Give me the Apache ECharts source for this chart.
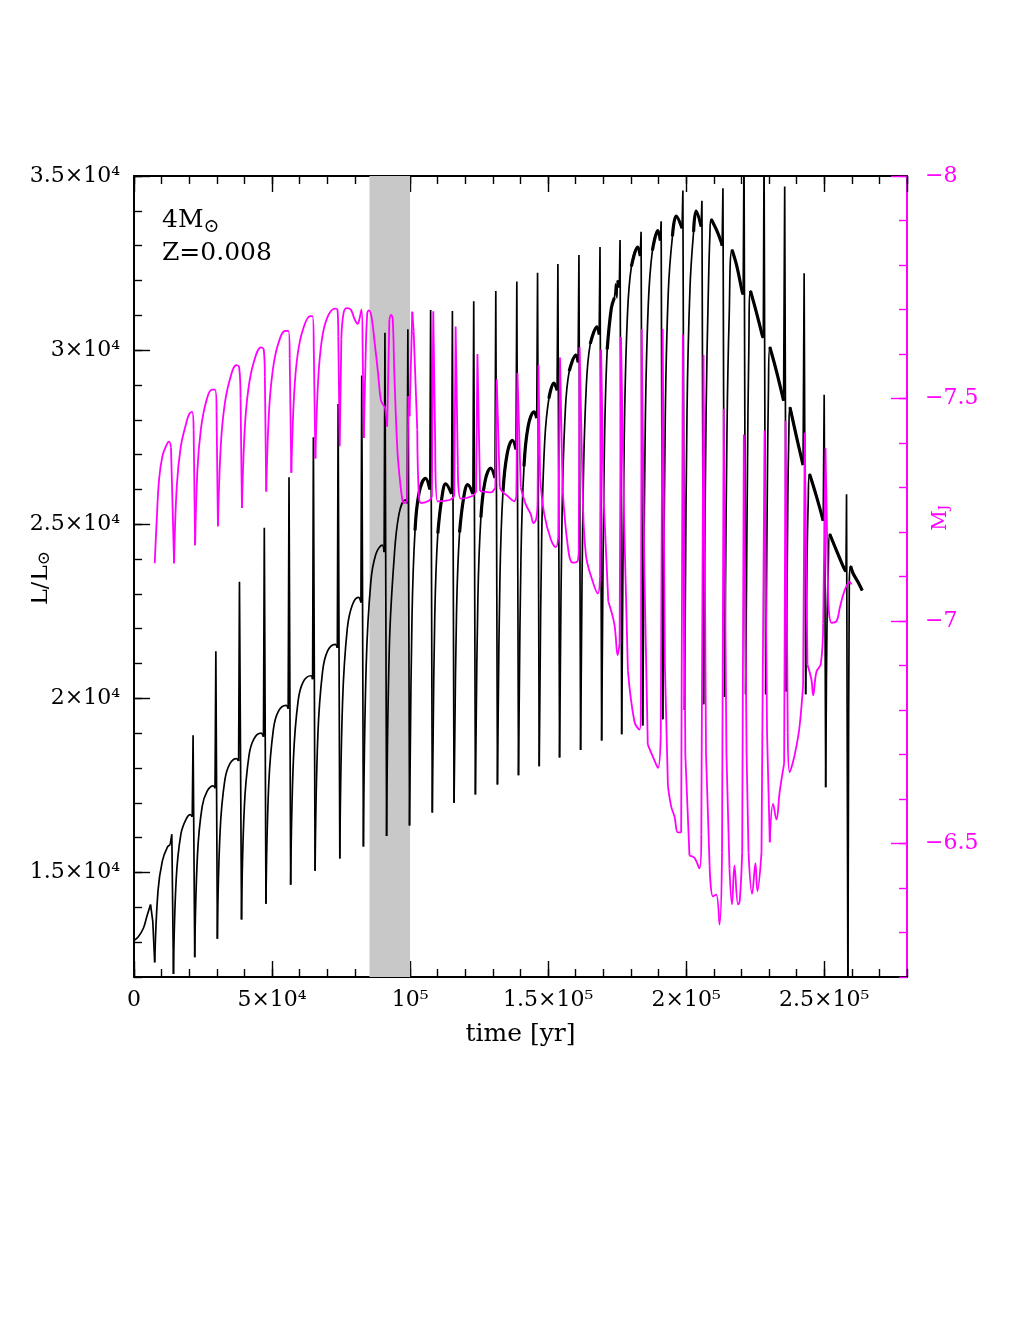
<!DOCTYPE html>
<html>
<head>
<meta charset="utf-8">
<title>4 Msun, Z=0.008: L and M_J through the thermal pulses</title>
<script src="https://cdn.jsdelivr.net/npm/echarts@6/dist/echarts.min.js"></script>
<style>
  html, body { margin: 0; background: #fff; }
  /* the figure is cut a few pixels into the left tick labels, as in the original */
  #chart { position: absolute; left: 31px; top: 0; width: 989px; height: 1320px; }
</style>
</head>
<body>
<div id="chart"></div>
<script>
const FONT = 'DejaVu Serif'
const MAGENTA = '#ff00ff'

// axis ticks
const xTickValues = [0, 50000, 100000, 150000, 200000, 250000]
const xTickLabels = ['0', '5×10⁴', '10⁵', '1.5×10⁵', '2×10⁵', '2.5×10⁵']
const lumTickValues = [15000, 20000, 25000, 30000, 35000]
const lumTickLabels = ['1.5×10⁴', '2×10⁴', '2.5×10⁴', '3×10⁴', '3.5×10⁴']
const mjTickValues = [-8, -7.5, -7, -6.5]
const mjTickLabels = ['−8', '−7.5', '−7', '−6.5']

// shaded time interval [yr]
const shadedBand = [85300, 100000]

// luminosity L/Lsun  [time yr, L]
const lumData = [
  [0, 13050], [1500, 13150], [3400, 13400], [4700, 13750], [6000, 14080], [6800, 13600], [7500, 12420],
  [8700, 14480], [10300, 15340], [12100, 15730], [13100, 15800], [13700, 16100], [14300, 12090],
  [15300, 14830], [17000, 16110], [18800, 16520], [20400, 16660], [21100, 16600], [21400, 18940], [22000, 12570],
  [23000, 15520], [24700, 16900], [26500, 17340], [28700, 17490], [29350, 17420], [29650, 21350], [30200, 13100],
  [31200, 16200], [32900, 17650], [34700, 18120], [37100, 18270], [37900, 18200], [38200, 23350], [38950, 13650],
  [39950, 16860], [41650, 18360], [43450, 18840], [46000, 19000], [46900, 18900], [47200, 24900], [47800, 14100],
  [48800, 17520], [50500, 19120], [52300, 19630], [55100, 19800], [55850, 19700], [56150, 26350], [56750, 14650],
  [57750, 18250], [59450, 19930], [61250, 20470], [64100, 20650], [64700, 20550], [64980, 27500], [65600, 15050],
  [66600, 18950], [68300, 20770], [70100, 21355], [72900, 21550], [73650, 21450], [73940, 28450], [74550, 15400],
  [75550, 19900], [77250, 22000], [79050, 22675], [81300, 22900], [82200, 22750], [82500, 29270], [83100, 15750],
  [84100, 20940], [85800, 23360], [87600, 24140], [89900, 24400], [90600, 24200], [90900, 30500], [91500, 16050],
  [92500, 21500], [94200, 24000], [96000, 25300], [98300, 25700], [98950, 25600], [99200, 30600], [99800, 16350],
  [100700, 22330], [101800, 24825], [103300, 25920], [105600, 26320], [107150, 26000], [107450, 31150], [108050, 16720],
  [108950, 22380], [110050, 24740], [111550, 25780], [112900, 26160], [115030, 25870], [115330, 31120], [115930, 17000],
  [116830, 22480], [117930, 24770], [119430, 25770], [120900, 26140], [122760, 25870], [123060, 31400], [123660, 17240],
  [124560, 22860], [125660, 25200], [127160, 26235], [129200, 26610], [130750, 26330], [131050, 31700], [131650, 17530],
  [132550, 23460], [133650, 25930], [135150, 27015], [137100, 27410], [138370, 27150], [138670, 31970], [139270, 17790],
  [140170, 24050], [141270, 26660], [142770, 27810], [144950, 28230], [145880, 28050], [146180, 32220], [146780, 18050],
  [147680, 24650], [148780, 27400], [150280, 28610], [152100, 29050], [153250, 28850], [153550, 32470], [154150, 18300],
  [155050, 25240], [156150, 28130], [157650, 29400], [160080, 29860], [160870, 29650], [161170, 32730], [161770, 18520],
  [162670, 25810], [163770, 28850], [165270, 30180], [167710, 30670], [168500, 30450], [168800, 32960], [169400, 18790],
  [170300, 26720], [171400, 30020], [172900, 31200], [174000, 31500], [174500, 31900], [174900, 31500], [175220, 32000],
  [175800, 31800], [176060, 33160], [176660, 18970],
  [177560, 27360], [178660, 30860], [180160, 32400], [182480, 32960], [183380, 32700], [183680, 33400], [184280, 19220],
  [185180, 27750], [186280, 31300], [187780, 32860], [189750, 33430], [190640, 33150], [190940, 33700], [191540, 19400],
  [192440, 28070], [193540, 31680], [195040, 33270], [196400, 33850], [198520, 33500], [198820, 34580], [199420, 19670],
  [200320, 28260], [201420, 31840], [202700, 33400], [203620, 33990], [205420, 33550], [205720, 34290], [206320, 19830],
  [207220, 28190], [208000, 31530], [208600, 33300], [209070, 33760], [211000, 33450], [212720, 33100], [213030, 33000],
  [213330, 34650], [213930, 20040],
  [214800, 27740], [215600, 31000], [216610, 32880], [218400, 32400], [220240, 31700], [220660, 31600], [220960, 35800], [221560, 20120],
  [222200, 26500], [222700, 30000], [223300, 31700], [225400, 31100], [227500, 30450], [227950, 30350], [228220, 35800], [228820, 20120],
  [229400, 26000], [229800, 28800], [230300, 30090], [232700, 29400], [235300, 28550], [235700, 34700], [236300, 20200],
  [236800, 25500], [237200, 27600], [237600, 28360], [240000, 27500], [242350, 26700], [242740, 32210], [243300, 20120],
  [243800, 24000], [244200, 25600], [244700, 26440], [247200, 25800], [249650, 25100], [250000, 28720], [250550, 17450],
  [251000, 22000], [251500, 23800], [252000, 24720], [254700, 24200], [257400, 23700], [257900, 23650], [258100, 25860], [258600, 11500],
  [259100, 23300], [259600, 23800], [260400, 23600], [262200, 23350], [263800, 23100]
]

// absolute J magnitude  [time yr, M_J]
const mjData = [
  [7500, -7.13], [8240, -7.228], [9080, -7.318], [10270, -7.37], [11510, -7.392], [12700, -7.403], [13400, -7.39], [14520, -7.13],
  [15490, -7.302], [16940, -7.392], [18770, -7.441], [19970, -7.465], [21000, -7.47], [21600, -7.43], [22140, -7.17],
  [22980, -7.34], [24210, -7.43], [26000, -7.49], [28200, -7.52], [29300, -7.52], [29900, -7.47], [30400, -7.213],
  [31400, -7.39], [32700, -7.48], [34600, -7.54], [37100, -7.575], [38100, -7.57], [38600, -7.5], [39100, -7.254],
  [40100, -7.43], [41400, -7.52], [43300, -7.58], [46000, -7.615], [47000, -7.61], [47400, -7.55], [47900, -7.291],
  [48900, -7.47], [50200, -7.56], [52100, -7.62], [54800, -7.652], [55900, -7.652], [56400, -7.59], [56990, -7.333],
  [58000, -7.51], [59300, -7.6], [61200, -7.655], [63800, -7.685], [64600, -7.685], [65100, -7.62], [65700, -7.365],
  [66700, -7.54], [68000, -7.63], [69900, -7.68], [72700, -7.702], [73700, -7.70], [74000, -7.64], [74520, -7.393],
  [75100, -7.632], [75900, -7.692], [77100, -7.703], [78500, -7.70], [80000, -7.677], [81000, -7.668], [81700, -7.68],
  [82400, -7.70], [82800, -7.62], [83240, -7.411],
  [83900, -7.594], [84500, -7.692], [85100, -7.698], [86000, -7.685], [87200, -7.624], [88400, -7.557], [89400, -7.497],
  [90250, -7.486], [90900, -7.48], [91700, -7.437],
  [92500, -7.677], [93100, -7.688], [93700, -7.68], [94300, -7.557], [95400, -7.385], [96300, -7.318], [97200, -7.273],
  [97800, -7.265], [98900, -7.268],
  [99400, -7.505], [99800, -7.46], [100800, -7.695], [101300, -7.65], [102600, -7.43], [103200, -7.28], [104000, -7.265],
  [106800, -7.27], [107900, -7.28], [108400, -7.696], [109100, -7.40], [109900, -7.269], [112500, -7.27], [114700, -7.273],
  [116000, -7.28], [116500, -7.662], [117300, -7.35], [118300, -7.275],
  [122600, -7.281], [123900, -7.29], [124400, -7.60], [125350, -7.292], [127500, -7.29], [129200, -7.289], [130900, -7.30],
  [131400, -7.543], [132500, -7.30], [133500, -7.29], [135500, -7.28], [137700, -7.269], [138500, -7.28],
  [138900, -7.558], [140100, -7.30], [141900, -7.262], [143700, -7.24], [144700, -7.22], [145700, -7.23], [146200, -7.27],
  [146500, -7.575], [147100, -7.322], [148600, -7.24], [151000, -7.183], [152800, -7.166], [153700, -7.19],
  [154300, -7.592], [155250, -7.298], [157100, -7.17], [158900, -7.131], [160700, -7.135], [161100, -7.16],
  [161400, -7.615], [162500, -7.30], [163700, -7.148], [166100, -7.09], [168000, -7.062], [168800, -7.10],
  [169200, -7.61], [170100, -7.275], [171800, -7.044], [174000, -6.993], [175200, -6.923], [175900, -6.95],
  [176400, -7.638], [177600, -7.206], [178900, -6.889], [181300, -6.773], [183100, -6.756], [183600, -6.80],
  [183900, -7.656], [184900, -7.10], [186100, -6.722], [188500, -6.687], [189800, -6.670], [190800, -6.745],
  [191500, -7.656], [192300, -6.90], [193400, -6.629], [194600, -6.583], [195800, -6.56], [197000, -6.525], [198200, -6.525],
  [198800, -7.644], [199700, -6.70], [201200, -6.473], [203000, -6.468], [204800, -6.444], [205500, -6.52],
  [206300, -7.598], [207200, -6.70], [208500, -6.45], [209700, -6.381], [210900, -6.385], [212100, -6.318], [213000, -6.479],
  [213600, -7.477], [214600, -6.70], [215700, -6.444], [216600, -6.363], [217500, -6.45], [218800, -6.363], [219400, -6.37], [220300, -6.48],
  [220900, -7.419], [221900, -6.70], [222600, -6.479], [223900, -6.387], [225100, -6.456], [225800, -6.393], [227300, -6.48],
  [228400, -7.428], [229300, -6.75], [230300, -6.503], [231500, -6.589], [232700, -6.554], [233900, -6.617], [235500, -6.68],
  [236000, -7.45], [236800, -6.75], [237500, -6.66], [238700, -6.683], [239900, -6.717], [241100, -6.764], [242370, -6.856],
  [242960, -7.423], [243940, -6.902], [245390, -6.868], [246010, -6.833], [247200, -6.886], [248770, -6.903], [249640, -6.994],
  [250470, -7.389], [251450, -7.053], [252650, -6.996], [254500, -7.00], [255660, -7.03], [257480, -7.07], [259300, -7.088],
  [259910, -7.082]
]

// Split a track into the slowly varying stretches (drawn smoothed) and the
// abrupt pulse jumps (drawn as straight strokes), so spikes stay sharp.
function splitRuns(points, keep) {
  const out = []
  for (let k = 0; k < points.length - 1; k++) {
    const a = points[k], b = points[k + 1]
    if (a[1] == null || b[1] == null || !keep(k, a, b)) continue
    if (out[out.length - 1] !== a) {
      if (out.length) out.push([a[0], null])
      out.push(a)
    }
    out.push(b)
  }
  return out
}

const lumDrop = j => j >= 0 && j < lumData.length - 1 && lumData[j][1] - lumData[j + 1][1] > 1000
const lumJump = k => lumDrop(k) || lumDrop(k + 1)
const lumSmooth = splitRuns(lumData, k => !lumJump(k))
const lumSharp = splitRuns(lumData, k => lumJump(k))
// after ~1e5 yr the flat tops are noisy and print as a thicker band
const lumPlateau = splitRuns(lumSmooth, (k, a, b) => a[0] >= 100000 && Math.abs(b[1] - a[1]) / (b[0] - a[0]) < 0.8)

const mjJump = k => Math.abs(mjData[k + 1][1] - mjData[k][1]) > 0.2
const mjSmooth = splitRuns(mjData, k => !mjJump(k))
const mjSharp = splitRuns(mjData, k => mjJump(k))

const pick = (values, labels) => v => {
  const i = values.findIndex(t => Math.abs(t - v) < 1e-6)
  return i < 0 ? '' : labels[i]
}

const tickFont = { fontFamily: FONT, fontSize: 22, color: '#000' }

// one axis with long major ticks + labels, a twin with short minor ticks only
const xMajor = (position, withLabels) => ({
  type: 'value', position, min: 0, max: 280000, interval: 50000,
  axisLine: { show: true, onZero: false, lineStyle: { color: '#000', width: 2 } },
  axisTick: { show: true, inside: true, length: 16, lineStyle: { color: '#000', width: 1.4 } },
  axisLabel: {
    show: withLabels, ...tickFont, margin: 12, showMaxLabel: false,
    formatter: pick(xTickValues, xTickLabels)
  },
  splitLine: { show: false }
})
const xMinor = position => ({
  type: 'value', position, min: 0, max: 280000, interval: 10000,
  axisLine: { show: false, onZero: false },
  axisTick: { show: true, inside: true, length: 8, lineStyle: { color: '#000', width: 1.4 } },
  axisLabel: { show: false },
  splitLine: { show: false }
})

const lineSeries = (data, yAxisIndex, color, width, smooth, z) => ({
  type: 'line', data, xAxisIndex: 0, yAxisIndex, z,
  smooth, showSymbol: false, connectNulls: false, clip: true, silent: true,
  lineStyle: { color, width }
})

const chart = echarts.init(document.getElementById('chart'))

const option = {
  animation: false,
  backgroundColor: '#fff',
  grid: { left: 103, right: 113, top: 176, bottom: 343, containLabel: false, outerBoundsMode: 'none' },
  xAxis: [
    {
      ...xMajor('bottom', true),
      name: 'time [yr]', nameLocation: 'middle', nameGap: 45,
      nameTextStyle: { fontFamily: FONT, fontSize: 25, color: '#000' }
    },
    xMinor('bottom'),
    xMajor('top', false),
    xMinor('top')
  ],
  yAxis: [
    {
      type: 'value', position: 'left', min: 12000, max: 35000,
      axisLine: { show: true, onZero: false, lineStyle: { color: '#000', width: 2 } },
      axisTick: {
        show: true, inside: true, length: 16, customValues: lumTickValues,
        lineStyle: { color: '#000', width: 1.4 }
      },
      axisLabel: {
        ...tickFont, margin: 14, customValues: lumTickValues,
        formatter: pick(lumTickValues, lumTickLabels)
      },
      splitLine: { show: false }
    },
    {
      type: 'value', position: 'left', min: 12000, max: 35000, interval: 1000,
      axisLine: { show: false, onZero: false },
      axisTick: { show: true, inside: true, length: 8, lineStyle: { color: '#000', width: 1.4 } },
      axisLabel: { show: false },
      splitLine: { show: false }
    },
    {
      type: 'value', position: 'right', min: -8, max: -6.2, interval: 0.5, inverse: true,
      axisLine: { show: true, onZero: false, lineStyle: { color: MAGENTA, width: 2 } },
      axisTick: { show: true, inside: true, length: 16, lineStyle: { color: MAGENTA, width: 1.4 } },
      axisLabel: {
        fontFamily: FONT, fontSize: 22, color: MAGENTA, margin: 18, showMaxLabel: false,
        formatter: pick(mjTickValues, mjTickLabels)
      },
      splitLine: { show: false }
    },
    {
      type: 'value', position: 'right', min: -8, max: -6.2, interval: 0.1, inverse: true,
      axisLine: { show: false, onZero: false },
      axisTick: { show: true, inside: true, length: 8, lineStyle: { color: MAGENTA, width: 1.4 } },
      axisLabel: { show: false },
      splitLine: { show: false }
    }
  ],
  graphic: [
    {
      type: 'text', left: 131, top: 204,
      style: {
        text: '4M{s|⊙}\nZ=0.008',
        font: `25px "${FONT}"`, fill: '#000', lineHeight: 33,
        rich: { s: { font: `19px "${FONT}"`, fill: '#000', verticalAlign: 'bottom', lineHeight: 26 } }
      }
    },
    {
      // left axis title, reads upwards
      type: 'text', x: 10, y: 578, rotation: Math.PI / 2,
      style: {
        text: 'L/L{s|⊙}', font: `24px "${FONT}"`, fill: '#000', align: 'center', verticalAlign: 'middle',
        rich: { s: { font: `17px "${FONT}"`, fill: '#000', verticalAlign: 'bottom', lineHeight: 24 } }
      }
    },
    {
      // right axis title
      type: 'text', x: 910, y: 518, rotation: Math.PI / 2,
      style: {
        text: 'M{j|J}', font: `20px "${FONT}"`, fill: MAGENTA, align: 'center', verticalAlign: 'middle',
        rich: { j: { font: `13px "${FONT}"`, fill: MAGENTA, verticalAlign: 'bottom', lineHeight: 18 } }
      }
    }
  ],
  series: [
    {
      // shaded interval behind the curves
      type: 'line', data: [], xAxisIndex: 0, yAxisIndex: 0, z: 1, silent: true,
      markArea: {
        silent: true,
        itemStyle: { color: '#c8c8c8' },
        data: [[{ xAxis: shadedBand[0] }, { xAxis: shadedBand[1] }]]
      }
    },
    lineSeries(lumSmooth, 0, '#000', 1.7, 0.4, 3),
    lineSeries(lumPlateau, 0, '#000', 3.2, 0.4, 3),
    lineSeries(lumSharp, 0, '#000', 1.7, false, 3),
    lineSeries(mjSmooth, 2, MAGENTA, 1.8, 0.4, 4),
    lineSeries(mjSharp, 2, MAGENTA, 1.8, false, 4)
  ]
}

chart.setOption(option)
</script>
</body>
</html>
